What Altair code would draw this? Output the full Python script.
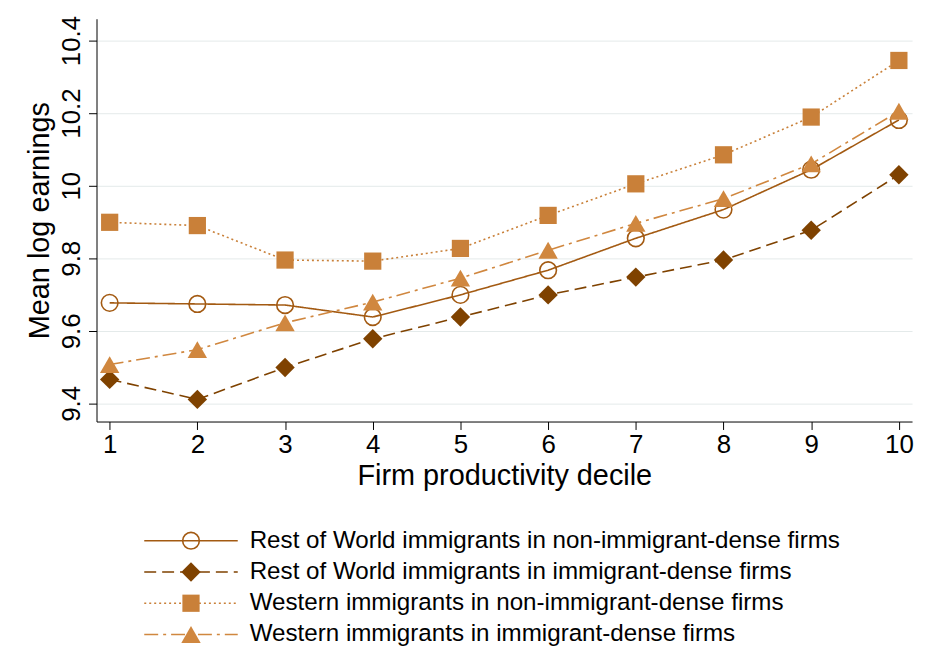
import altair as alt
import pandas as pd

deciles = list(range(1, 11))
series = [
    "Rest of World immigrants in non-immigrant-dense firms",
    "Rest of World immigrants in immigrant-dense firms",
    "Western immigrants in non-immigrant-dense firms",
    "Western immigrants in immigrant-dense firms",
]
row_nonimm = [9.677, 9.674, 9.671, 9.638, 9.699, 9.767, 9.855, 9.934, 10.044, 10.181]
row_imm = [9.466, 9.411, 9.499, 9.578, 9.638, 9.699, 9.748, 9.795, 9.877, 10.030]
west_nonimm = [9.899, 9.890, 9.795, 9.792, 9.827, 9.918, 10.005, 10.085, 10.189, 10.345]
west_imm = [9.507, 9.548, 9.622, 9.679, 9.745, 9.822, 9.896, 9.964, 10.060, 10.205]
values = [row_nonimm, row_imm, west_nonimm, west_imm]

colors = ["#a35a12", "#7f4200", "#c98039", "#d0873f"]
shapes = ["circle", "diamond", "square", "triangle-up"]
dashes = [[1, 0], [12, 6], [2, 3], [14, 5, 3, 5]]
fills = [False, True, True, True]
sizes = [280, 380, 300, 380]

font = "Liberation Sans"
layers = []
legend_layers = []
for i, name in enumerate(series):
    df = pd.DataFrame({"decile": deciles, "earn": values[i], "series": name})
    base = alt.Chart(df).encode(
        x=alt.X("decile:Q", scale=alt.Scale(domain=[0.85, 10.15], nice=False),
                axis=alt.Axis(values=deciles, title="Firm productivity decile", grid=False,
                              labelFontSize=26, titleFontSize=29, tickSize=8,
                              labelFont=font, titleFont=font, titleFontWeight="normal",
                              domainColor="black", tickColor="black", labelColor="black",
                              titleColor="black", titlePadding=4)),
        y=alt.Y("earn:Q", scale=alt.Scale(domain=[9.35, 10.46], nice=False, zero=False),
                axis=alt.Axis(values=[9.4, 9.6, 9.8, 10, 10.2, 10.4], title="Mean log earnings",
                              format="~g",
                              labelAngle=270, labelAlign="center", labelBaseline="bottom",
                              labelFontSize=26, titleFontSize=29, tickSize=8,
                              labelFont=font, titleFont=font, titleFontWeight="normal",
                              gridColor="#e4eaea", domainColor="black", tickColor="black",
                              labelColor="black", titleColor="black", labelPadding=4)),
    )
    layers.append(base.mark_line(color=colors[i], strokeDash=dashes[i], strokeWidth=1.6))
    layers.append(base.mark_point(shape=shapes[i], size=sizes[i], filled=fills[i],
                                  color=colors[i], strokeWidth=1.6, opacity=1))

    ld = pd.DataFrame({"row": [i], "label": [name]})
    lb = alt.Chart(ld).encode(y=alt.Y("row:O", axis=None,
                                      scale=alt.Scale(paddingOuter=0.1)))
    legend_layers.append(lb.mark_rule(color=colors[i], strokeDash=dashes[i], strokeWidth=1.6)
                         .encode(x=alt.value(48), x2=alt.value(142)))
    legend_layers.append(lb.mark_point(shape=shapes[i], size=sizes[i], filled=fills[i],
                                       color=colors[i], strokeWidth=1.6, opacity=1)
                         .encode(x=alt.value(95)))
    legend_layers.append(lb.mark_text(align="left", fontSize=24.3, font=font, color="black")
                         .encode(x=alt.value(154), text="label:N"))

noview = alt.ViewConfig(strokeWidth=0)
main = alt.layer(*layers).properties(width=820, height=405, view=noview)
legend = alt.layer(*legend_layers).properties(width=820, height=132, view=noview)

chart = alt.vconcat(main, legend, spacing=32).properties(
    padding={"left": 18, "top": 5, "right": 5, "bottom": 5}
).configure_view(strokeWidth=0).configure(background="white")
chart.save("out.html", embed_options={"renderer": "svg", "actions": False})
